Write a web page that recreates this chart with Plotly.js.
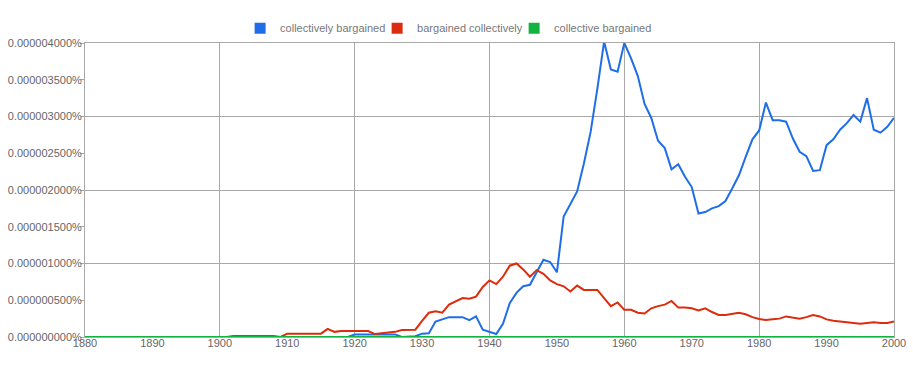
<!DOCTYPE html>
<html>
<head>
<meta charset="utf-8">
<script src="https://cdn.plot.ly/plotly-3.0.1.min.js"></script>
<style>html,body{margin:0;padding:0;background:#fff;}#chart{width:913px;height:375px;}</style>
</head>
<body>
<div id="chart"></div>
<script>
var years = [1880,1881,1882,1883,1884,1885,1886,1887,1888,1889,1890,1891,1892,1893,1894,1895,1896,1897,1898,1899,
1900,1901,1902,1903,1904,1905,1906,1907,1908,1909,1910,1911,1912,1913,1914,1915,1916,1917,1918,1919,
1920,1921,1922,1923,1924,1925,1926,1927,1928,1929,1930,1931,1932,1933,1934,1935,1936,1937,1938,1939,
1940,1941,1942,1943,1944,1945,1946,1947,1948,1949,1950,1951,1952,1953,1954,1955,1956,1957,1958,1959,
1960,1961,1962,1963,1964,1965,1966,1967,1968,1969,1970,1971,1972,1973,1974,1975,1976,1977,1978,1979,
1980,1981,1982,1983,1984,1985,1986,1987,1988,1989,1990,1991,1992,1993,1994,1995,1996,1997,1998,1999,2000];

// values in units of 1e-6 percent
var collectivelyBargained = [0,0,0,0,0,0,0,0,0,0,0,0,0,0,0,0,0,0,0,0,
0,0,0.012,0.012,0.012,0.012,0.012,0.012,0.012,0,0,0,0,0,0,0,0,0,0,0,
0.035,0.035,0.035,0.035,0.035,0.035,0.035,0,0,0.01,0.045,0.05,0.21,0.24,0.27,0.27,0.27,0.23,0.28,0.10,
0.07,0.04,0.18,0.46,0.60,0.69,0.71,0.87,1.05,1.02,0.88,1.64,1.82,1.98,2.36,2.79,3.38,4.02,3.64,3.61,
4.00,3.79,3.55,3.17,2.98,2.67,2.57,2.28,2.35,2.18,2.04,1.68,1.70,1.75,1.78,1.85,2.02,2.20,2.45,2.69,
2.81,3.19,2.95,2.95,2.93,2.70,2.52,2.46,2.26,2.27,2.61,2.69,2.82,2.91,3.02,2.93,3.25,2.82,2.78,2.86,2.98];

var bargainedCollectively = [0,0,0,0,0,0,0,0,0,0,0,0,0,0,0,0,0,0,0,0,
0,0,0,0,0,0,0,0,0,0,0.045,0.045,0.045,0.045,0.045,0.045,0.11,0.07,0.08,0.08,
0.08,0.08,0.08,0.04,0.05,0.05,0.07,0.095,0.095,0.10,0.22,0.33,0.35,0.33,0.44,0.49,0.53,0.52,0.55,0.68,
0.77,0.72,0.82,0.97,1.00,0.92,0.82,0.91,0.86,0.77,0.72,0.69,0.62,0.70,0.64,0.64,0.64,0.53,0.42,0.47,
0.37,0.37,0.33,0.32,0.39,0.42,0.44,0.49,0.40,0.40,0.39,0.36,0.39,0.34,0.30,0.30,0.31,0.33,0.31,0.27,
0.245,0.23,0.24,0.25,0.28,0.27,0.25,0.27,0.30,0.28,0.24,0.22,0.21,0.21,0.20,0.18,0.19,0.20,0.19,0.19,0.21];

var collectiveBargained = [0,0,0,0,0,0,0,0,0,0,0,0,0,0,0,0,0,0,0,0,
0,0,0,0,0,0,0,0,0,0,0,0,0,0,0,0,0,0,0,0,
0,0,0,0,0,0,0,0,0,0,0,0,0,0,0,0,0,0,0,0,
0,0,0,0,0,0,0,0,0,0,0,0,0,0,0,0,0,0,0,0,
0,0,0,0,0,0,0,0,0,0,0,0,0,0,0,0,0,0,0,0,
0,0,0,0,0,0,0,0,0,0,0,0,0,0,0,0,0,0,0,0,0];

var seriesNames = ["collectively bargained", "bargained collectively", "collective bargained"];
var seriesColors = ["#1f6ee8", "#dc2c0e", "#12b33e"];
var UNIT = 1e-6;

function pct(arr){ return arr.map(function(v){ return v * UNIT; }); }

var data = [
  {x: years, y: pct(collectivelyBargained), type: "scatter", mode: "lines", name: seriesNames[0],
   line: {color: seriesColors[0], width: 2}, showlegend: false, legendgroup: "a", hoverinfo: "skip"},
  {x: years, y: pct(bargainedCollectively), type: "scatter", mode: "lines", name: seriesNames[1],
   line: {color: seriesColors[1], width: 2}, showlegend: false, legendgroup: "b", hoverinfo: "skip"},
  {x: years, y: pct(collectiveBargained), type: "scatter", mode: "lines", name: seriesNames[2],
   xaxis: "x2", yaxis: "y2",
   line: {color: seriesColors[2], width: 2}, showlegend: false, legendgroup: "c", hoverinfo: "skip"}
];
// legend swatches
for (var i = 0; i < 3; i++) {
  data.push({x: [null], y: [null], type: "scatter", mode: "markers", name: seriesNames[i],
    legendgroup: ["a","b","c"][i],
    marker: {symbol: "square", size: 11, color: seriesColors[i]}, hoverinfo: "skip"});
}

var gridC = "#a8a8a8";
var layout = {
  width: 913, height: 375,
  margin: {l: 85, r: 19, t: 43, b: 38},
  paper_bgcolor: "#fff", plot_bgcolor: "#fff",
  font: {family: "Liberation Sans, Arial, sans-serif", size: 11, color: "#666"},
  showlegend: true,
  legend: {orientation: "h", xref: "container", yref: "container", x: 0.263, xanchor: "left",
           y: 0.925, yanchor: "middle", font: {size: 11, color: "#777"}, itemclick: false,
           bgcolor: "rgba(0,0,0,0)", entrywidth: 92, entrywidthmode: "pixels"},
  xaxis: {range: [1880, 2000], tick0: 1880, dtick: 10, showgrid: false, zeroline: false,
          showline: true, mirror: true, linecolor: gridC, linewidth: 1, ticks: "",
          ticklabelstandoff: -4,
          tickfont: {size: 11, color: "#666"}, fixedrange: true},
  yaxis: {range: [0, 4e-6], tick0: 0, dtick: 0.5e-6, tickformat: ".9f", ticksuffix: "%",
          showgrid: false, zeroline: false, showline: true, mirror: true, linecolor: gridC,
          ticks: "outside", ticklen: 4, tickcolor: gridC, ticklabelstandoff: -4,
          tickfont: {size: 11, color: "#666"}, fixedrange: true},
  xaxis2: {overlaying: "x", anchor: "y2", range: [1880, 2000], tick0: 1880, dtick: 20,
           showgrid: true, gridcolor: gridC, showticklabels: false, ticks: "", zeroline: false,
           showline: false, fixedrange: true},
  yaxis2: {overlaying: "y", anchor: "x2", range: [0, 4e-6], tick0: 0, dtick: 1e-6,
           showgrid: true, gridcolor: gridC, showticklabels: false, ticks: "", zeroline: false,
           showline: false, fixedrange: true},
  hovermode: false
};

Plotly.newPlot("chart", data, layout, {displayModeBar: false, staticPlot: true});
</script>
</body>
</html>
